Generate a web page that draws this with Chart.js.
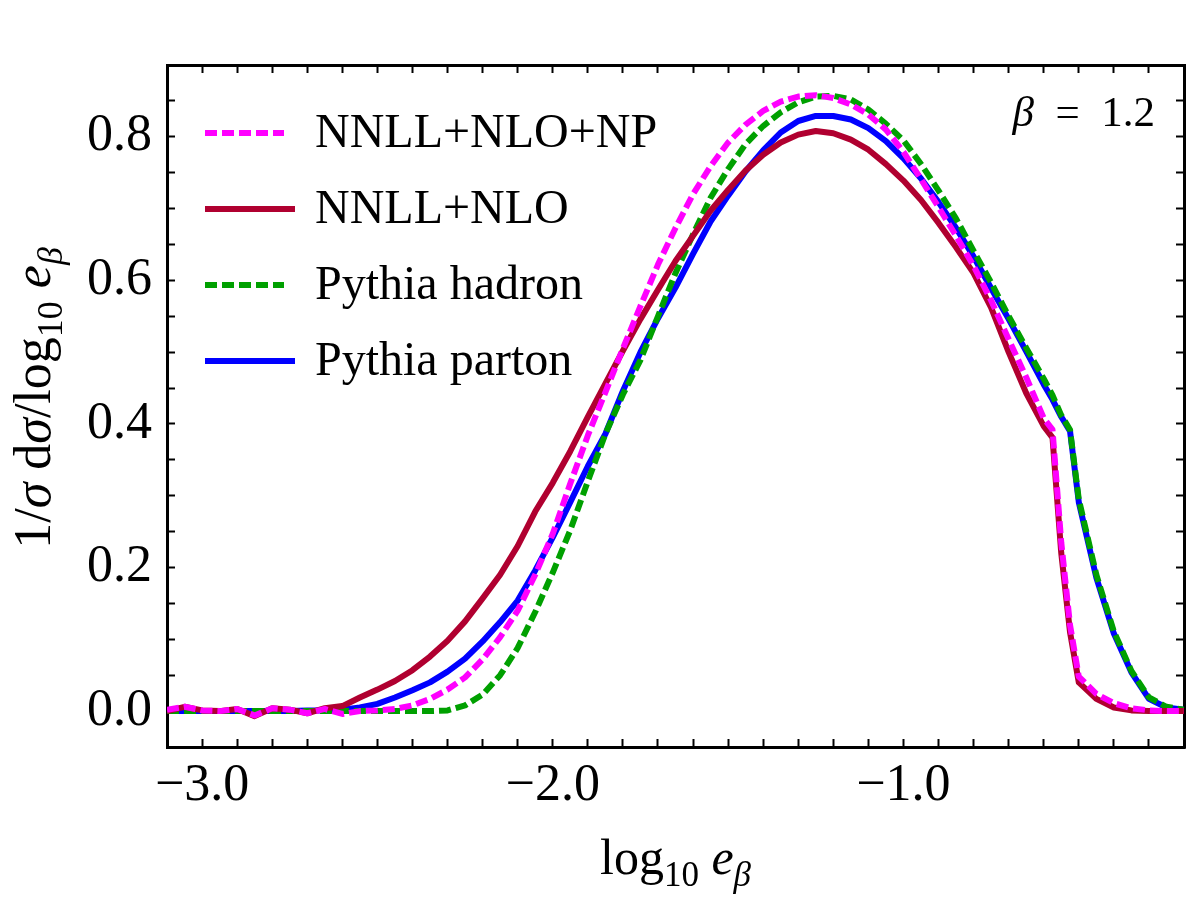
<!DOCTYPE html>
<html>
<head>
<meta charset="utf-8">
<script src="https://cdn.jsdelivr.net/npm/chart.js@4.4.0/dist/chart.umd.min.js"></script>
<style>
    html, body { margin: 0; padding: 0; background: #fff; }
    #wrap { width: 1200px; height: 914px; }
</style>
</head>
<body>
<div id="wrap"><canvas id="myChart" width="1200" height="914"></canvas></div>
<script>
// log10 e_beta sample points (shared by all curves)
var logE = [-3.10, -3.05, -3.00, -2.95, -2.90, -2.85, -2.80, -2.75, -2.70, -2.65,
            -2.60, -2.55, -2.50, -2.45, -2.40, -2.35, -2.30, -2.25, -2.20, -2.15,
            -2.10, -2.05, -2.00, -1.95, -1.90, -1.85, -1.80, -1.75, -1.70, -1.65,
            -1.60, -1.55, -1.50, -1.45, -1.40, -1.35, -1.30, -1.25, -1.20, -1.15,
            -1.10, -1.05, -1.00, -0.95, -0.90, -0.85, -0.80, -0.75, -0.70, -0.65,
            -0.60, -0.575, -0.55, -0.525, -0.50, -0.45, -0.40, -0.35, -0.30, -0.25, -0.20];

var nnllNloNp = [0.002, 0.006, 0.001, 0.000, 0.003, -0.006, 0.004, 0.002, -0.003, 0.003,
                 -0.004, 0.000, 0.001, 0.003, 0.008, 0.017, 0.030, 0.047, 0.072, 0.103,
                 0.140, 0.190, 0.247, 0.317, 0.384, 0.444, 0.505, 0.564, 0.622, 0.673,
                 0.720, 0.759, 0.792, 0.817, 0.836, 0.849, 0.856, 0.858, 0.854, 0.845,
                 0.831, 0.810, 0.779, 0.741, 0.702, 0.662, 0.620, 0.572, 0.518, 0.465,
                 0.408, 0.392, 0.235, 0.120, 0.048, 0.024, 0.011, 0.004, 0.001, 0.000, 0.000];

var nnllNlo = [0.000, 0.006, 0.001, 0.000, 0.003, -0.007, 0.004, 0.002, -0.003, 0.004,
               0.007, 0.019, 0.030, 0.042, 0.057, 0.076, 0.098, 0.125, 0.157, 0.190,
               0.230, 0.278, 0.318, 0.362, 0.410, 0.456, 0.502, 0.546, 0.587, 0.627,
               0.662, 0.697, 0.726, 0.753, 0.775, 0.792, 0.803, 0.808, 0.805, 0.796,
               0.782, 0.762, 0.739, 0.712, 0.680, 0.646, 0.610, 0.562, 0.500, 0.443,
               0.397, 0.381, 0.220, 0.110, 0.040, 0.017, 0.005, 0.001, 0.000, 0.000, 0.000];

var pythiaHadron = [0.000, 0.000, 0.000, 0.000, 0.000, 0.000, 0.000, 0.000, 0.000, 0.000,
                    0.000, 0.000, 0.000, 0.000, 0.000, 0.000, 0.001, 0.008, 0.023, 0.050,
                    0.088, 0.138, 0.193, 0.252, 0.320, 0.386, 0.441, 0.489, 0.550, 0.610,
                    0.664, 0.715, 0.755, 0.790, 0.815, 0.834, 0.848, 0.856, 0.857, 0.852,
                    0.838, 0.818, 0.795, 0.762, 0.725, 0.686, 0.641, 0.597, 0.550, 0.506,
                    0.463, 0.440, 0.412, 0.392, 0.295, 0.190, 0.111, 0.056, 0.019, 0.006, 0.002];

var pythiaParton = [0.000, 0.000, 0.000, 0.000, 0.000, 0.000, 0.000, 0.000, 0.001, 0.001,
                    0.002, 0.005, 0.010, 0.019, 0.029, 0.040, 0.055, 0.073, 0.097, 0.124,
                    0.154, 0.196, 0.242, 0.291, 0.341, 0.386, 0.446, 0.500, 0.547, 0.590,
                    0.637, 0.682, 0.718, 0.752, 0.781, 0.806, 0.822, 0.829, 0.829, 0.824,
                    0.812, 0.794, 0.770, 0.742, 0.709, 0.673, 0.633, 0.589, 0.546, 0.501,
                    0.455, 0.434, 0.410, 0.390, 0.291, 0.186, 0.108, 0.054, 0.017, 0.005, 0.002];

var seriesNames = ['NNLL+NLO+NP', 'NNLL+NLO', 'Pythia hadron', 'Pythia parton'];
var seriesValues = [nnllNloNp, nnllNlo, pythiaHadron, pythiaParton];
var seriesColors = ['#ff00ff', '#b00030', '#00a000', '#0000ff'];
var seriesDashed = [true, false, true, false];

var xMin = -3.1, xMax = -0.2, xStep = 0.1;
var yMin = -0.05, yMax = 0.9, yStep = 0.05;
var betaText = '1.2';

var serif = '"Liberation Serif", "Times New Roman", serif';
var dashPattern = [12, 5];

function toPoints(ys) {
    var pts = [];
    for (var i = 0; i < logE.length; i++) {
        pts.push({x: logE[i], y: ys[i]});
    }
    return pts;
}

// text pieces: t = text, it = italic, sub = subscript
function partFont(p, size) {
    return (p.it ? 'italic ' : '') + Math.round(p.sub ? size * 0.7 : size) + 'px ' + serif;
}
function richWidth(ctx, parts, size) {
    var w = 0;
    parts.forEach(function (p) {
        ctx.font = partFont(p, size);
        w += ctx.measureText(p.t).width;
    });
    return w;
}
function drawRich(ctx, parts, x, y, size) {
    parts.forEach(function (p) {
        ctx.font = partFont(p, size);
        ctx.fillText(p.t, x, y + (p.sub ? size * 0.24 : 0));
        x += ctx.measureText(p.t).width;
    });
}

var yTitle = [{t: '1/'}, {t: 'σ', it: true}, {t: ' d'}, {t: 'σ', it: true}, {t: '/log'},
              {t: '10', sub: true}, {t: ' '}, {t: 'e', it: true}, {t: 'β', it: true, sub: true}];
var xTitle = [{t: 'log'}, {t: '10', sub: true}, {t: ' '}, {t: 'e', it: true}, {t: 'β', it: true, sub: true}];
var betaLabel = [{t: 'β', it: true}, {t: '\u2002=\u2002' + betaText}];

var decorations = {
    id: 'decorations',
    afterDraw: function (chart) {
        var ctx = chart.ctx;
        var area = chart.chartArea;
        ctx.save();
        ctx.fillStyle = '#000';
        ctx.textBaseline = 'alphabetic';

        // y axis title, rotated
        ctx.save();
        ctx.translate(50, 398);
        ctx.rotate(-Math.PI / 2);
        var w = richWidth(ctx, yTitle, 52);
        drawRich(ctx, yTitle, -w / 2, 0, 52);
        ctx.restore();

        // x axis title
        w = richWidth(ctx, xTitle, 50);
        drawRich(ctx, xTitle, (area.left + area.right) / 2 - w / 2, 874, 50);

        // beta label, top right
        w = richWidth(ctx, betaLabel, 43);
        drawRich(ctx, betaLabel, 1155 - w, 126, 43);

        // legend
        for (var i = 0; i < seriesNames.length; i++) {
            var ly = 133 + i * 76;
            ctx.save();
            ctx.strokeStyle = seriesColors[i];
            ctx.lineWidth = 6;
            ctx.lineCap = 'butt';
            ctx.setLineDash(seriesDashed[i] ? dashPattern : []);
            ctx.beginPath();
            ctx.moveTo(205, ly);
            ctx.lineTo(seriesDashed[i] ? 284 : 295, ly);
            ctx.stroke();
            ctx.restore();
            ctx.font = '48px ' + serif;
            ctx.fillText(seriesNames[i], 315, ly + 14);
        }
        ctx.restore();
    }
};

var datasets = [];
for (var i = 0; i < seriesNames.length; i++) {
    datasets.push({
        label: seriesNames[i],
        data: toPoints(seriesValues[i]),
        borderColor: seriesColors[i],
        backgroundColor: seriesColors[i],
        borderWidth: 6,
        borderDash: seriesDashed[i] ? dashPattern : [],
        borderCapStyle: 'butt',
        borderJoinStyle: 'round',
        pointRadius: 0,
        tension: 0,
        fill: false
    });
}

function frameGrid() {
    return {
        drawOnChartArea: false,
        drawTicks: true,
        tickLength: -8,
        tickWidth: 2,
        color: '#000'
    };
}
function frameBorder() {
    return {display: true, color: '#000', width: 3};
}

var ctx = document.getElementById('myChart');
var chart = new Chart(ctx, {
    type: 'line',
    data: {datasets: datasets},
    options: {
        responsive: false,
        devicePixelRatio: 1,
        animation: false,
        layout: {padding: 0},
        plugins: {
            legend: {display: false},
            tooltip: {enabled: false}
        },
        scales: {
            x: {
                type: 'linear',
                position: 'bottom',
                min: xMin,
                max: xMax,
                ticks: {
                    stepSize: xStep,
                    autoSkip: false,
                    maxRotation: 0,
                    padding: 16,
                    color: '#000',
                    font: {family: serif, size: 52},
                    callback: function (value) {
                        if (Math.abs(value - Math.round(value)) < 1e-6) {
                            return value.toFixed(1).replace('-', '\u2212');
                        }
                        return '';
                    }
                },
                grid: frameGrid(),
                border: frameBorder(),
                afterFit: function (scale) { scale.height = 914 - 747; }
            },
            x2: {
                type: 'linear',
                position: 'top',
                min: xMin,
                max: xMax,
                ticks: {stepSize: xStep, display: false},
                grid: frameGrid(),
                border: frameBorder(),
                afterFit: function (scale) { scale.height = 65; }
            },
            y: {
                type: 'linear',
                position: 'left',
                min: yMin,
                max: yMax,
                ticks: {
                    stepSize: yStep,
                    autoSkip: false,
                    padding: 23,
                    color: '#000',
                    font: {family: serif, size: 52},
                    callback: function (value) {
                        var r = value / 0.2;
                        if (value > -1e-6 && Math.abs(r - Math.round(r)) < 1e-6) {
                            return value.toFixed(1);
                        }
                        return '';
                    }
                },
                grid: frameGrid(),
                border: frameBorder(),
                afterFit: function (scale) { scale.width = 167; }
            },
            y2: {
                type: 'linear',
                position: 'right',
                min: yMin,
                max: yMax,
                ticks: {stepSize: yStep, display: false},
                grid: frameGrid(),
                border: frameBorder(),
                afterFit: function (scale) { scale.width = 12; }
            }
        }
    },
    plugins: [decorations]
});
</script>
</body>
</html>
